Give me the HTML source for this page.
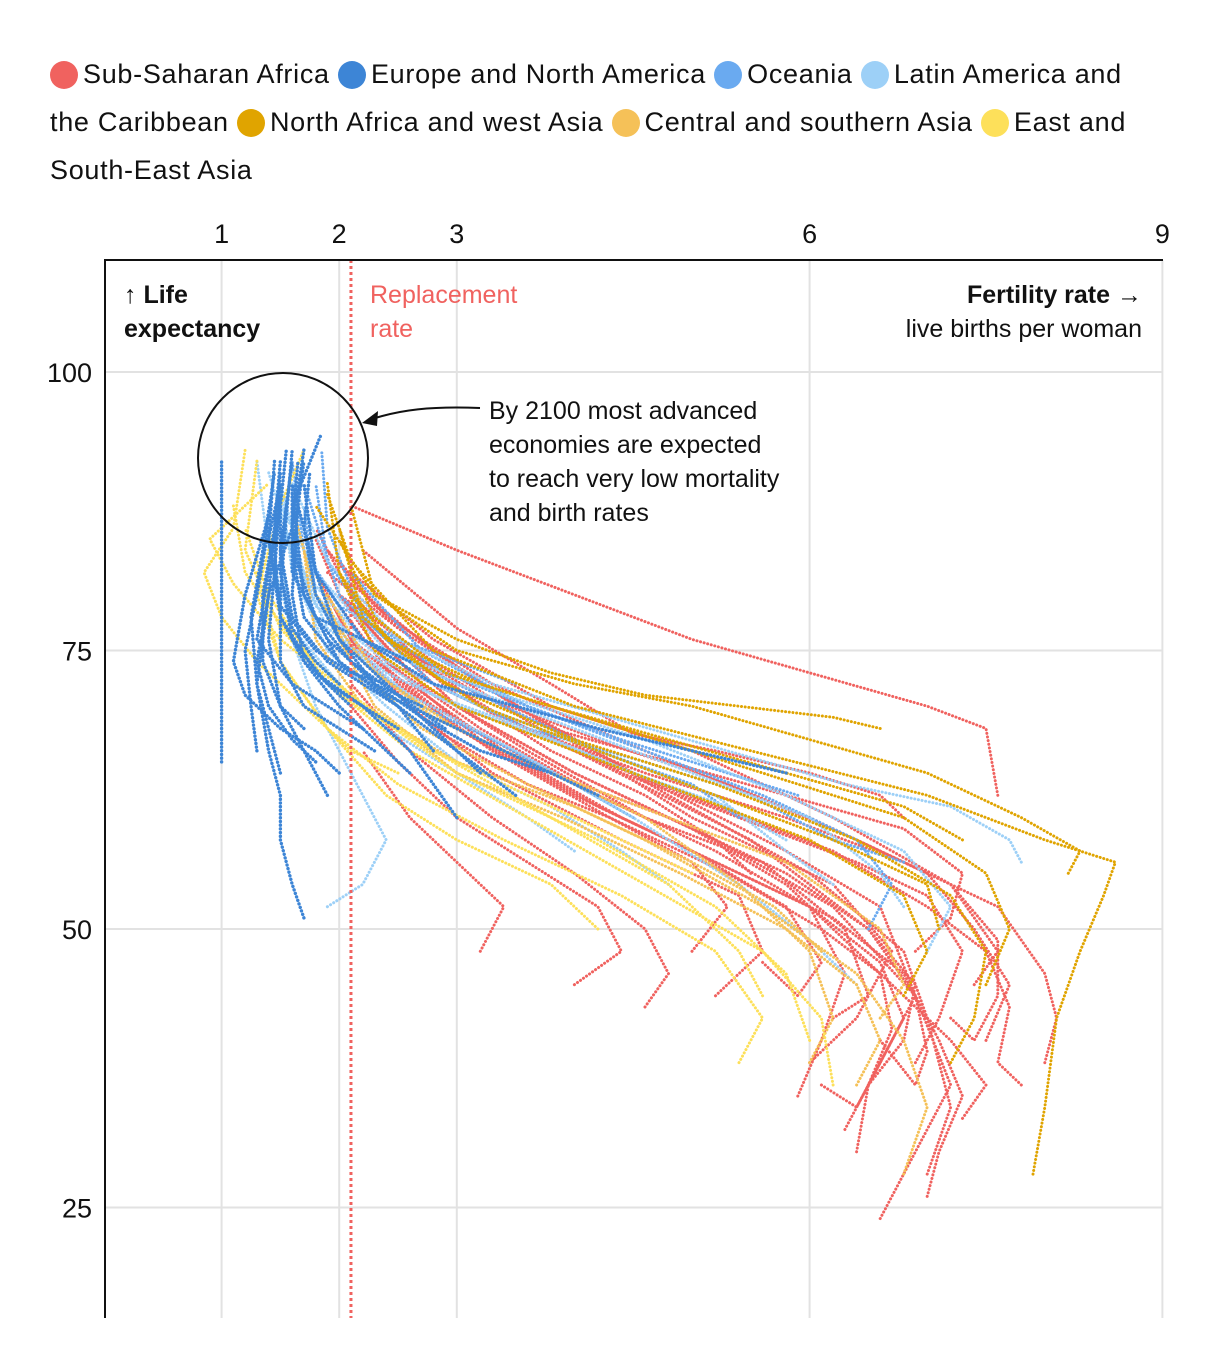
<!DOCTYPE html>
<html><head><meta charset="utf-8">
<style>
body{margin:0;background:#fff;width:1220px;height:1370px;overflow:hidden;font-family:"Liberation Sans",sans-serif;color:#111}
#legend{position:absolute;left:50px;top:50px;width:1160px;font-size:27px;line-height:48px;letter-spacing:0.7px;white-space:nowrap}
.dot{display:inline-block;width:28px;height:28px;border-radius:50%;vertical-align:-6px;margin-right:5px}
svg{position:absolute;left:0;top:0}
</style></head><body>
<div id="legend">
<span><span class="dot" style="background:#f0625f"></span>Sub-Saharan Africa</span>
<span><span class="dot" style="background:#3d85d6"></span>Europe and North America</span>
<span><span class="dot" style="background:#6aaaf0"></span>Oceania</span>
<span><span class="dot" style="background:#9dd0f7"></span>Latin America and<br>the Caribbean</span>
<span><span class="dot" style="background:#e0a400"></span>North Africa and west Asia</span>
<span><span class="dot" style="background:#f5c158"></span>Central and southern Asia</span>
<span><span class="dot" style="background:#fde05a"></span>East and<br>South-East Asia</span>
</div>
<svg id="chart" width="1220" height="1370"></svg>
<script>
const xTicks=[1,2,3,6,9];
const yTicks=[100,75,50,25];
const replacementRate=2.1;
const regionNames=["sub-saharan-africa","oceania","latin-america","north-africa","central-southern-asia","east-southeast-asia","europe-north-america"];
const regionColors=["#f0625f","#6aaaf0","#9dd0f7","#e0a400","#f5c158","#fde05a","#3d85d6"];
const subSaharan=[
"6.5,36 6.8,40 6.9,45 6.5,50 5.5,58 4,66 2.8,74 2,80 1.8,85",
"6.3,32 6.6,38 6.9,44 6.6,52 5.8,57 4.5,64 3.2,72 2.3,79 1.9,84",
"7.5,40 7.7,45 7.4,50 7,55 6,60 4.6,66 3.3,72 2.4,78 2,83",
"6.0,38 6.4,42 6.7,48 6.2,54 5,60 3.8,68 2.8,75 2.1,81",
"7.0,28 7.2,34 7.0,42 6.8,48 6,55 4.8,62 3.5,70 2.5,77 1.9,82",
"5.2,44 5.6,48 5.4,53 4.4,58 3.3,64 2.6,70 2.1,76 1.8,82",
"7.4,45 7.6,48 7.2,54 6.2,60 5,66 3.8,70 2.8,76 2.1,82",
"6.2,42 6.5,44 6.3,50 5.6,56 4.6,60 3.6,66 2.7,72 2,80",
"5.5,55 5.2,58 4.6,62 3.8,66 3.2,70 2.6,75 2.1,80 1.8,86",
"6.8,60 6.6,62 6.0,64 5.2,66 4.5,67.5 3.8,72 3.0,77 2.2,84",
"7.6,62 7.5,68 7,70 6,73 5,76 4,80 3,84 2.1,88",
"4.0,45 4.4,48 4.2,52 3.6,56 3,60 2.5,65 2.1,70",
"3.2,48 3.4,52 3.0,56 2.6,60 2.2,66",
"6.6,24 6.9,30 7.2,36 6.9,44 6.2,52 5.2,58 4,64 3,70 2.2,78",
"5.9,35 6.1,40 6.3,46 6.0,52 5.2,57 4.2,62 3.2,68 2.4,74 2.0,80",
"6.9,38 7.1,42 7.3,48 7.0,53 6.4,56 5.4,60 4.4,64 3.4,69 2.6,74",
"7.3,33 7.5,36 7.2,40 6.8,44 6.4,48 5.8,54 5,59 4,64 3,70 2.3,77",
"6.1,36 6.4,34 6.6,38 6.8,42 6.6,47 6.0,52 5.2,56 4.2,61 3.2,67 2.4,74",
"7.0,26 7.1,30 7.3,35 7.1,40 6.8,46 6.2,51 5.4,55 4.4,60 3.4,66 2.6,72",
"7.8,36 7.6,38 7.7,43 7.5,48 7.0,52 6.2,57 5.2,61 4,66 3,71 2.2,78",
"6.6,40 6.9,36 7.0,39 6.9,44 6.5,50 5.8,55 4.8,60 3.8,64 2.8,70 2.1,76",
"7.2,42 7.4,40 7.6,44 7.6,49 7.2,54 6.4,58 5.3,63 4.2,67 3.2,71 2.4,76",
"8.0,38 8.1,42 8.0,46 7.6,52 6.8,56 5.8,60 4.6,64 3.6,68 2.6,73 2.0,80",
"5.6,47 5.9,44 6.1,47 5.8,52 5.0,57 4.0,62 3.0,68 2.2,75",
"4.6,43 4.8,46 4.6,50 4.0,55 3.3,60 2.6,66 2.1,72",
"6.4,30 6.5,36 6.7,41 6.6,46 6.1,50 5.3,55 4.3,60 3.3,66 2.5,72 2.0,79",
"6.9,48 7.2,51 7.3,55 6.8,59 5.8,62 4.8,65 3.8,68 2.8,73 2.2,79",
"5.0,48 5.3,52 5.0,56 4.3,60 3.6,63 2.8,68 2.2,74 1.9,80"];
const oceania=[
"6.8,56 6.2,58 5.5,62 4.6,65 3.6,68 2.8,72 2.2,78 1.9,86 1.85,93",
"5.4,60 5,63 4.2,66 3.4,70 2.6,74 2,80 1.7,90",
"3.5,72 3.0,74 2.5,76 2.0,79 1.7,84 1.6,92",
"6.5,50 6.7,54 6.4,58 5.6,62 4.6,66 3.6,70 2.7,75 2.1,82",
"5.9,62 5.3,64 4.4,67 3.6,70 2.9,73 2.3,77 1.9,83 1.8,90",
"4.5,60 4,63 3.3,67 2.7,70 2.2,74 1.8,80 1.7,88"];
const latinAmerica=[
"6.8,52 6.6,55 6.0,60 5,64 4,68 3,72 2.2,76 1.7,82 1.5,90",
"7.0,48 7.2,52 6.8,57 5.8,62 4.6,67 3.4,71 2.4,75 1.8,82 1.5,88",
"6.2,54 5.8,57 5.2,62 4.2,66 3.2,70 2.4,74 1.8,79 1.5,86",
"5.0,62 4.5,64 3.8,67 3,70 2.4,73 1.9,77 1.6,84 1.4,91",
"4.0,57 3.6,60 3,64 2.4,68 2,72 1.6,77 1.4,84 1.3,92",
"6.4,45 6.0,49 5.4,54 4.5,60 3.5,66 2.6,71 2,76 1.6,84",
"1.9,52 2.2,54 2.4,58 2.2,62 2,66 1.8,70 1.6,76 1.5,84",
"7.8,56 7.7,58 7.2,61 6.3,63 5.3,66 4.3,69 3.3,72 2.5,76 1.9,83 1.6,90",
"5.8,58 5.3,61 4.5,64 3.6,68 2.8,71 2.2,75 1.8,80 1.6,88",
"4.8,54 4.4,57 3.8,61 3,65 2.4,70 1.9,75 1.6,82 1.5,90"];
const northAfrica=[
"7.5,45 7.7,50 7.5,55 6.8,60 5.6,64 4.4,68 3.2,72 2.4,76 2,82 1.9,90",
"8.2,55 8.3,57 7.8,60 7,64 6,67 5,70 4,72 3,75 2.3,80 2.1,88",
"7.2,38 7.4,42 7.5,48 7.2,53 6.4,58 5.2,63 4,67 2.9,72 2.2,78 2,86",
"7.9,28 8.0,34 8.1,42 8.3,48 8.5,53 8.6,56 8,58 7,62 5.5,66 4,70 2.8,75 2.1,83 1.9,89",
"7.1,50 7.0,54 6.2,58 5.2,62 4.2,66 3.2,70 2.5,75 2.1,80",
"6.6,68 6.2,69 5.4,70 4.6,71 3.8,73 3.0,76 2.3,80 1.8,88",
"6.8,44 7.0,48 6.8,53 6.0,58 5.0,62 4,66 3,70 2.3,75 2,82",
"7.3,58 6.8,61 5.8,64 4.8,67 3.8,70 2.9,73 2.3,78 2.0,85"];
const centralAsia=[
"6.0,38 6.2,42 6.0,48 5.4,54 4.6,60 3.6,65 2.8,69 2.2,74 1.8,80 1.6,88",
"6.6,42 6.8,45 6.6,50 5.8,56 4.8,60 3.8,64 3,68 2.3,73 1.9,80",
"6.8,28 7.0,34 6.8,40 6.4,46 5.6,52 4.6,58 3.6,63 2.7,68 2.1,74 1.8,82",
"6.1,48 5.7,52 5.0,56 4.0,61 3.0,65 2.2,70 1.8,76 1.7,84",
"6.4,36 6.6,40 6.4,45 5.8,50 4.9,55 3.9,60 3.0,64 2.3,70 1.9,78"];
const eastAsia=[
"6.0,40 5.8,46 5.2,52 4.2,58 3.0,64 2.2,70 1.6,76 1.2,82 1.1,88",
"5.6,44 5.4,48 4.8,54 3.8,60 2.8,66 2.0,71 1.5,77 1.2,84 1.3,92",
"6.2,36 6.1,42 5.6,48 4.6,54 3.6,60 2.6,66 1.9,72 1.4,80 1.2,86",
"5.0,55 4.4,58 3.6,62 2.8,66 2.1,71 1.5,76 1.1,81 0.9,85 1.4,90",
"4.2,50 3.8,54 3.0,58 2.4,62 1.9,68 1.5,74 1.3,80 1.5,88 1.7,93",
"2.5,64 2.1,66 1.7,70 1.3,74 1.0,78 0.85,82 1.1,86 1.2,93",
"5.4,38 5.6,42 5.2,48 4.4,53 3.4,58 2.5,63 1.9,68 1.5,74 1.3,82"];
const europe=[
"2.8,66 2.5,70 2.2,72 1.9,74 1.6,78 1.5,84 1.6,92",
"3.0,60 2.6,66 2.2,70 1.8,73 1.5,78 1.4,85 1.5,90",
"2.4,72 2.1,73 1.8,75 1.5,79 1.4,85 1.45,92",
"2.2,68 1.9,70 1.6,72 1.3,76 1.4,82 1.5,88",
"3.5,62 3.0,66 2.5,70 2.0,74 1.7,78 1.6,84 1.7,92",
"1.8,65 1.6,67 1.4,70 1.3,74 1.4,80 1.6,86 1.7,93",
"2.6,74 2.2,76 1.8,78 1.6,82 1.6,88 1.85,94.5",
"1.0,65 1.0,70 1.0,75 1.0,80 1.0,86 1.0,92",
"2.0,64 1.8,66 1.5,68 1.2,71 1.1,74 1.2,80 1.4,87",
"4.2,62 3.6,65 3.0,68 2.4,71 2.0,74 1.7,80 1.6,89",
"5.8,64 5.0,66 4.2,68 3.5,70 2.8,72 2.2,76 1.8,82 1.6,90",
"1.7,51 1.6,54 1.5,58 1.5,62 1.4,66 1.3,72 1.4,80 1.5,91",
"2.3,66 2.0,68 1.7,70 1.5,74 1.5,80 1.55,87 1.6,93",
"2.7,70 2.3,72 1.9,76 1.7,80 1.6,86 1.65,92",
"1.5,64 1.4,68 1.3,72 1.25,78 1.35,84 1.45,91",
"3.2,64 2.8,68 2.4,72 2.0,76 1.8,80 1.7,86 1.75,91",
"1.9,62 1.7,66 1.5,70 1.4,76 1.45,82 1.5,89",
"2.1,70 1.9,72 1.7,74 1.5,78 1.45,84 1.5,90",
"2.5,68 2.2,70 1.9,72 1.6,76 1.5,82 1.55,88",
"1.7,68 1.5,70 1.35,74 1.35,80 1.45,86 1.5,92",
"2.9,68 2.5,71 2.1,74 1.8,78 1.6,84 1.6,90",
"2.0,72 1.8,74 1.6,77 1.5,82 1.5,88 1.55,93",
"1.3,66 1.25,70 1.2,75 1.3,80 1.4,86",
"2.6,64 2.3,67 2.0,70 1.7,74 1.6,80 1.65,88",
"3.8,64 3.2,66 2.7,69 2.3,72 2.0,76 1.8,82 1.7,90"];
const regionSeries=[subSaharan,oceania,latinAmerica,northAfrica,centralAsia,eastAsia,europe];

const NS="http://www.w3.org/2000/svg";
const svg=document.getElementById('chart');
const L=105,R=1163,T=260,B=1318;
const xs=v=>104+117.6*v;
const ys=v=>372+(100-v)*11.14;
function mk(tag,attrs,parent){const e=document.createElementNS(NS,tag);for(const k in attrs)e.setAttribute(k,attrs[k]);(parent||svg).appendChild(e);return e;}

const grid=mk('g',{});


xTicks.forEach(t=>{
  const l=mk('line',{x1:xs(t),x2:xs(t),y1:T,y2:B,stroke:'#e2e2e2','stroke-width':2},grid);
  
  
  const tx=mk('text',{x:xs(t),y:243,'text-anchor':'middle','font-size':27,fill:'#111'});
  tx.textContent=t;
  
  
});
yTicks.forEach(t=>{
  const l=mk('line',{x1:L,x2:R,y1:ys(t),y2:ys(t),stroke:'#e2e2e2','stroke-width':2},grid);
  
  
  const tx=mk('text',{x:92,y:ys(t)+10,'text-anchor':'end','font-size':27,fill:'#111'});
  tx.textContent=t;
  
  
});

regionSeries.forEach((series,ri)=>{
  const g=mk('g',{});
  
  
  series.forEach(s=>{
    const pts=s.split(' ').map(p=>p.split(',').map(Number)).map(([f,l])=>xs(f).toFixed(1)+','+ys(l).toFixed(1)).join(' ');
    const pl=mk('polyline',{points:pts,fill:'none',stroke:regionColors[ri],'stroke-width':ri==6?3.4:3,'stroke-dasharray':'0.1 3.6','stroke-linecap':'round','stroke-linejoin':'round'},g);
    
    
  });
});

const rl=mk('line',{x1:xs(replacementRate),x2:xs(replacementRate),y1:T,y2:B,stroke:'#f0625f','stroke-width':3,'stroke-dasharray':'3 3'});



const ax=mk('path',{d:`M${L},${B} V${T} H${R}`,fill:'none',stroke:'#111','stroke-width':2});



function txt(x,y,s,attrs,name){const t=mk('text',Object.assign({x:x,y:y,'font-size':25,fill:'#111'},attrs));t.textContent=s;return t;}
txt(124,303,'↑ Life',{'font-weight':'bold'},'y-axis-title');
txt(124,337,'expectancy',{'font-weight':'bold'},'y-axis-title');
txt(1142,303,'Fertility rate →',{'font-weight':'bold','text-anchor':'end'},'x-axis-title');
txt(1142,337,'live births per woman',{'text-anchor':'end'},'x-axis-subtitle');
txt(370,303,'Replacement',{fill:'#f0625f'},'replacement-rate-label');
txt(370,337,'rate',{fill:'#f0625f'},'replacement-rate-label');
['By 2100 most advanced','economies are expected','to reach very low mortality','and birth rates'].forEach((s,i)=>txt(489,419+i*34,s,{},'annotation-text'));
const c=mk('circle',{cx:283,cy:458,r:85,fill:'none',stroke:'#111','stroke-width':2});


const ar=mk('path',{d:'M480,408 C430,406 400,410 372,419',fill:'none',stroke:'#111','stroke-width':2});


const ah=mk('path',{d:'M362,423 L378,411 L377,426 Z',fill:'#111'});


</script>
</body></html>
